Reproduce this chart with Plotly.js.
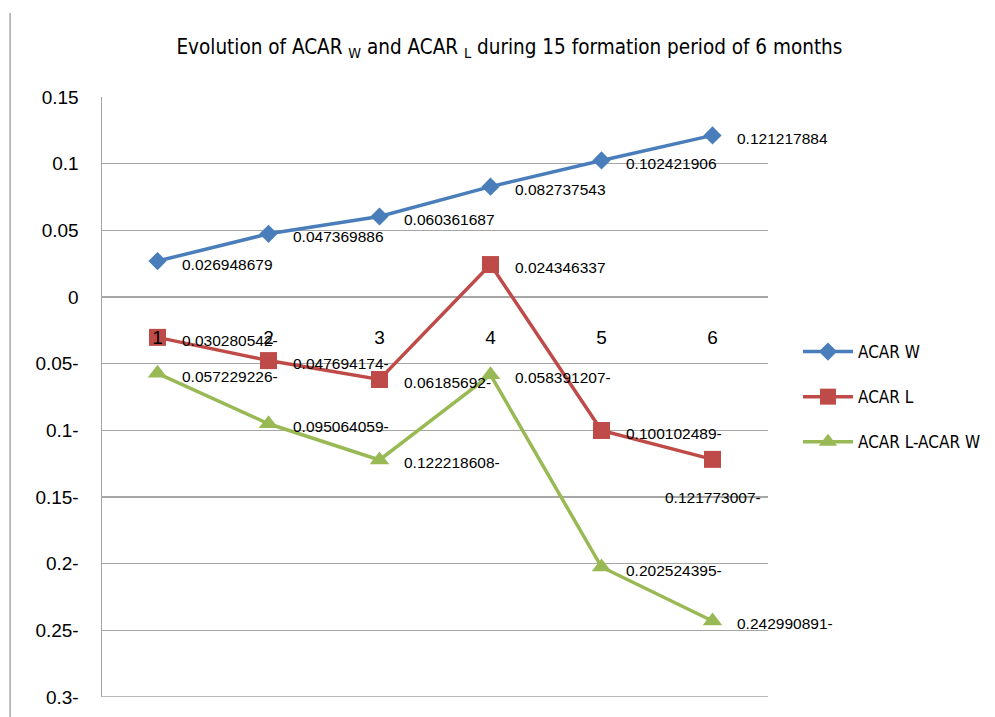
<!DOCTYPE html>
<html>
<head>
<meta charset="utf-8">
<script src="https://cdn.plot.ly/plotly-3.0.1.min.js"></script>
<style>html,body{margin:0;padding:0;background:#fff;}#chart{width:995px;height:717px;}</style>
</head>
<body>
<div id="chart"></div>
<script>
// ---- data ----
const periods = [1, 2, 3, 4, 5, 6];
const periodLabels = ["1", "2", "3", "4", "5", "6"];
const acarW = [0.026948679, 0.047369886, 0.060361687, 0.082737543, 0.102421906, 0.121217884];
const acarL = [-0.030280542, -0.047694174, -0.06185692, 0.024346337, -0.100102489, -0.121773007];
const acarLW = [-0.057229226, -0.095064059, -0.122218608, -0.058391207, -0.202524395, -0.242990891];
const seriesNames = ["ACAR W", "ACAR L", "ACAR L-ACAR W"];
const yTickVals = [0.15, 0.1, 0.05, 0, -0.05, -0.1, -0.15, -0.2, -0.25, -0.3];
const yTickText = ["0.15", "0.1", "0.05", "0", "0.05-", "0.1-", "0.15-", "0.2-", "0.25-", "0.3-"];

// trailing-minus formatting, as in the source
function fmt(v) { return v < 0 ? String(Math.abs(v)) + "-" : String(v); }

const colors = ["#4A7EBB", "#BE4B48", "#98B954"];
const symbols = ["diamond", "square", "triangle-up"];
const sizes = [14, 17, 17];
const allSeries = [acarW, acarL, acarLW];

const traces = allSeries.map((ys, i) => ({
  x: periods, y: ys, name: seriesNames[i], type: "scatter", mode: "lines+markers",
  line: {color: colors[i], width: 3.5},
  marker: {symbol: symbols[i], size: sizes[i], color: colors[i]},
  legendgroup: "g" + i, cliponaxis: false
}));

const annotations = [];
allSeries.forEach((ys, si) => {
  ys.forEach((v, pi) => {
    const special = (si === 1 && pi === 5);
    annotations.push({
      x: periods[pi], y: v, xref: "x", yref: "y", text: fmt(v), showarrow: false,
      xanchor: special ? "center" : "left", yanchor: "middle",
      xshift: special ? 0 : 22, yshift: special ? -38 : -3,
      font: {family: "Liberation Sans, Arial, sans-serif", size: 15.5, color: "#000"}
    });
  });
});

const layout = {
  width: 995, height: 717,
  margin: {l: 102, r: 227, t: 97, b: 20, autoexpand: false},
  paper_bgcolor: "#fff", plot_bgcolor: "#fff",
  title: {
    text: "Evolution of ACAR <sub>W</sub> and ACAR <sub>L</sub> during 15 formation period of 6 months",
    font: {family: "Liberation Sans Narrow, DejaVu Sans Condensed, Arial, sans-serif", size: 20.5, color: "#000"},
    x: 0.512, xanchor: "center", y: 0.935, yanchor: "middle"
  },
  xaxis: {
    range: [0.5, 6.5], tickvals: periods, ticktext: periodLabels,
    anchor: "free", position: 2 / 3,
    showgrid: false, zeroline: false, showline: false, ticks: "",
    ticklabelstandoff: 27, automargin: false,
    tickfont: {family: "Liberation Sans, Arial, sans-serif", size: 19, color: "#000"}
  },
  yaxis: {
    range: [-0.3, 0.15], tickvals: yTickVals, ticktext: yTickText,
    showgrid: true, gridcolor: "#A6A6A6", gridwidth: 1.5,
    zeroline: false, showline: true, linecolor: "#A6A6A6", linewidth: 1.5,
    ticks: "", ticklabelstandoff: 18, automargin: false,
    tickfont: {family: "Liberation Sans, Arial, sans-serif", size: 19, color: "#000"}
  },
  showlegend: true,
  legend: {
    x: 1.045, xanchor: "left", y: 0.5, yanchor: "middle",
    font: {family: "Liberation Sans Narrow, DejaVu Sans Condensed, Arial, sans-serif", size: 17, color: "#000"},
    tracegroupgap: 20, bgcolor: "rgba(0,0,0,0)", itemwidth: 50
  },
  annotations: annotations,
  shapes: [
    {type: "line", xref: "paper", yref: "paper", x0: -0.138, x1: -0.138, y0: 1.14, y1: -0.04,
     line: {color: "#A6A6A6", width: 1.5}},
    {type: "line", xref: "paper", yref: "y", x0: 0, x1: 1, y0: -0.3, y1: -0.3,
     line: {color: "#A6A6A6", width: 1.5}}
  ]
};

Plotly.newPlot("chart", traces, layout, {displayModeBar: false, staticPlot: true});
</script>
</body>
</html>
